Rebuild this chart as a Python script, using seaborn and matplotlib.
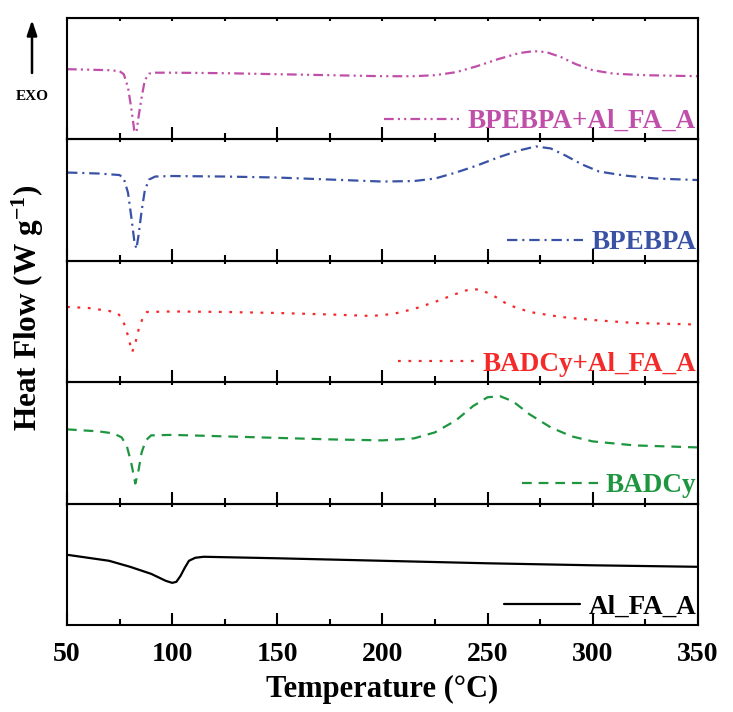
import numpy as np
import pandas as pd
import matplotlib
matplotlib.use("Agg")
import matplotlib.pyplot as plt
from matplotlib.ticker import MultipleLocator
import seaborn as sns

# DSC curves, heat flow in arbitrary units (panel height ~121)
temp_bpebpa_al = [50, 60, 70, 75, 77, 79, 80.5, 82, 83, 84, 85.5, 87, 89, 92, 100, 125, 150, 175,
                  200, 215, 225, 235, 245, 255, 265, 272, 278, 285, 292, 300, 310, 325, 350]
hf_bpebpa_al = [70, 69.5, 69, 68, 65, 52, 32, 9, 7, 22, 42, 59, 65.5, 66.5, 66.5, 66, 65, 64,
                63, 63, 64, 67, 73, 80, 86, 88, 87, 82, 75, 69, 65.5, 64, 63]

temp_bpebpa = [50, 65, 75, 77, 79, 80.5, 82, 83, 84, 85.5, 87, 89, 92, 100, 125, 150, 175, 200,
               215, 225, 235, 245, 255, 265, 273, 280, 287, 295, 303, 315, 330, 350]
hf_bpebpa = [88, 87, 85.5, 82, 68, 45, 20, 12, 25, 50, 70, 81, 84, 84.5, 84, 83, 81, 79,
             79.5, 82, 88, 95, 103, 110, 114, 112, 105, 96, 89, 85, 82, 80.5]

temp_badcy_al = [50, 60, 70, 74, 76, 78, 79.5, 81, 82.5, 84, 86, 88, 100, 125, 150, 175, 195,
                 205, 215, 225, 235, 242, 247, 253, 260, 270, 285, 300, 320, 350]
hf_badcy_al = [75, 74, 71, 69, 64, 54, 42, 30, 39, 52, 64, 70, 70.5, 70, 69, 67.5, 66,
               68, 73, 80, 88, 93, 92, 86, 77, 70, 65, 62, 59, 57.5]

temp_badcy = [50, 65, 72, 76, 78.5, 80.5, 82.5, 84, 85.5, 87.5, 90, 100, 125, 150, 175, 200,
              215, 225, 235, 243, 250, 256, 262, 270, 280, 290, 300, 320, 350]
hf_badcy = [74, 72, 70, 66, 57, 41, 20, 33, 51, 63, 68, 68.5, 67, 65.5, 64, 63,
            65, 71, 83, 97, 106, 107, 102, 89, 76, 67, 62, 58, 56]

temp_al = [50, 60, 70, 80, 90, 97, 100, 102, 104, 106, 108, 111, 115, 150, 200, 250, 300, 350]
hf_al = [70, 67, 64, 58, 51, 44, 42, 43, 49, 57, 64, 67, 68, 66.5, 64, 61.5, 59.5, 58]

names = ["BPEBPA+Al_FA_A", "BPEBPA", "BADCy+Al_FA_A", "BADCy", "Al_FA_A"]
temps = [temp_bpebpa_al, temp_bpebpa, temp_badcy_al, temp_badcy, temp_al]
flows = [hf_bpebpa_al, hf_bpebpa, hf_badcy_al, hf_badcy, hf_al]

colors = ["#C04FAA", "#3A52A6", "#F42A2A", "#1E9640", "black"]
styles = [(0, (7, 3, 1.5, 3, 1.5, 3)), (0, (7.5, 3.5, 1.5, 3.5)), (0, (2, 5.5)),
          (0, (7, 5)), "-"]

sns.set_style("ticks")
plt.rcParams["font.family"] = ["Liberation Serif", "DejaVu Serif"]
plt.rcParams["font.weight"] = "bold"
plt.rcParams["text.color"] = "black"
plt.rcParams["axes.labelcolor"] = "black"
plt.rcParams["xtick.color"] = "black"
plt.rcParams["axes.edgecolor"] = "black"
plt.rcParams["mathtext.fontset"] = "custom"
plt.rcParams["mathtext.bf"] = "Liberation Serif:bold"
plt.rcParams["mathtext.rm"] = "Liberation Serif:bold"
plt.rcParams["mathtext.default"] = "bf"
plt.rcParams["lines.scale_dashes"] = False

fig = plt.figure(figsize=(7.33, 7.12), dpi=100)
axes = fig.subplots(5, 1, sharex=True)
fig.subplots_adjust(left=0.0914, right=0.952, top=0.9747, bottom=0.1222, hspace=0)

for ax, t, h, name, c, ls in zip(axes, temps, flows, names, colors, styles):
    df = pd.DataFrame({"T": t, "HF": h})
    sns.lineplot(data=df, x="T", y="HF", ax=ax, color=c, linestyle=ls, linewidth=1.6,
                 label=name)
    ax.set_xlim(50, 350)
    ax.set_ylim(0, 121)
    ax.set_yticks([])
    ax.set_xlabel("")
    ax.set_ylabel("")
    for sp in ax.spines.values():
        sp.set_linewidth(1.5)
        sp.set_visible(True)
        sp.set_color("black")
    ax.xaxis.set_major_locator(MultipleLocator(50))
    ax.xaxis.set_minor_locator(MultipleLocator(25))
    ax.tick_params(axis="x", which="major", direction="in", length=9, width=1.5,
                   labelsize=20, pad=12, top=False, colors="black")
    ax.tick_params(axis="x", which="minor", direction="in", length=4.5, width=1.5, top=False,
                   colors="black")
    sec = ax.secondary_xaxis("top")
    sec.xaxis.set_major_locator(MultipleLocator(25))
    sec.tick_params(direction="in", length=2.5, width=1.5, labeltop=False, colors="black")
    leg = ax.legend(loc="lower right", bbox_to_anchor=(1.006, 0.0), frameon=False,
                    fontsize=19.5, handlelength=2.8, handletextpad=0.3, borderaxespad=0,
                    borderpad=0.2, labelcolor="linecolor")

axes[-1].set_xlabel("Temperature (°C)", fontsize=22, fontweight="bold", labelpad=6,
                    color="black")
for lab in axes[-1].get_xticklabels():
    lab.set_fontweight("bold")
    lab.set_color("black")

fig.text(0.038, 1 - 308 / 712, "Heat Flow (W g$^{-1}$)", rotation=90, fontsize=22.5,
         fontweight="bold", ha="center", va="center", color="black")

axes[0].annotate("", xy=(32 / 733, 1 - 20 / 712), xytext=(32 / 733, 1 - 73 / 712),
                 xycoords="figure fraction", textcoords="figure fraction",
                 arrowprops=dict(arrowstyle="-|>,head_length=0.9,head_width=0.3",
                                 color="black", linewidth=1.8, shrinkA=0, shrinkB=0),
                 annotation_clip=False)
fig.text(32 / 733, 1 - 97 / 712, "EXO", fontsize=11, fontweight="bold", ha="center",
         va="center", color="black")

fig.savefig("out.png", dpi=100)
